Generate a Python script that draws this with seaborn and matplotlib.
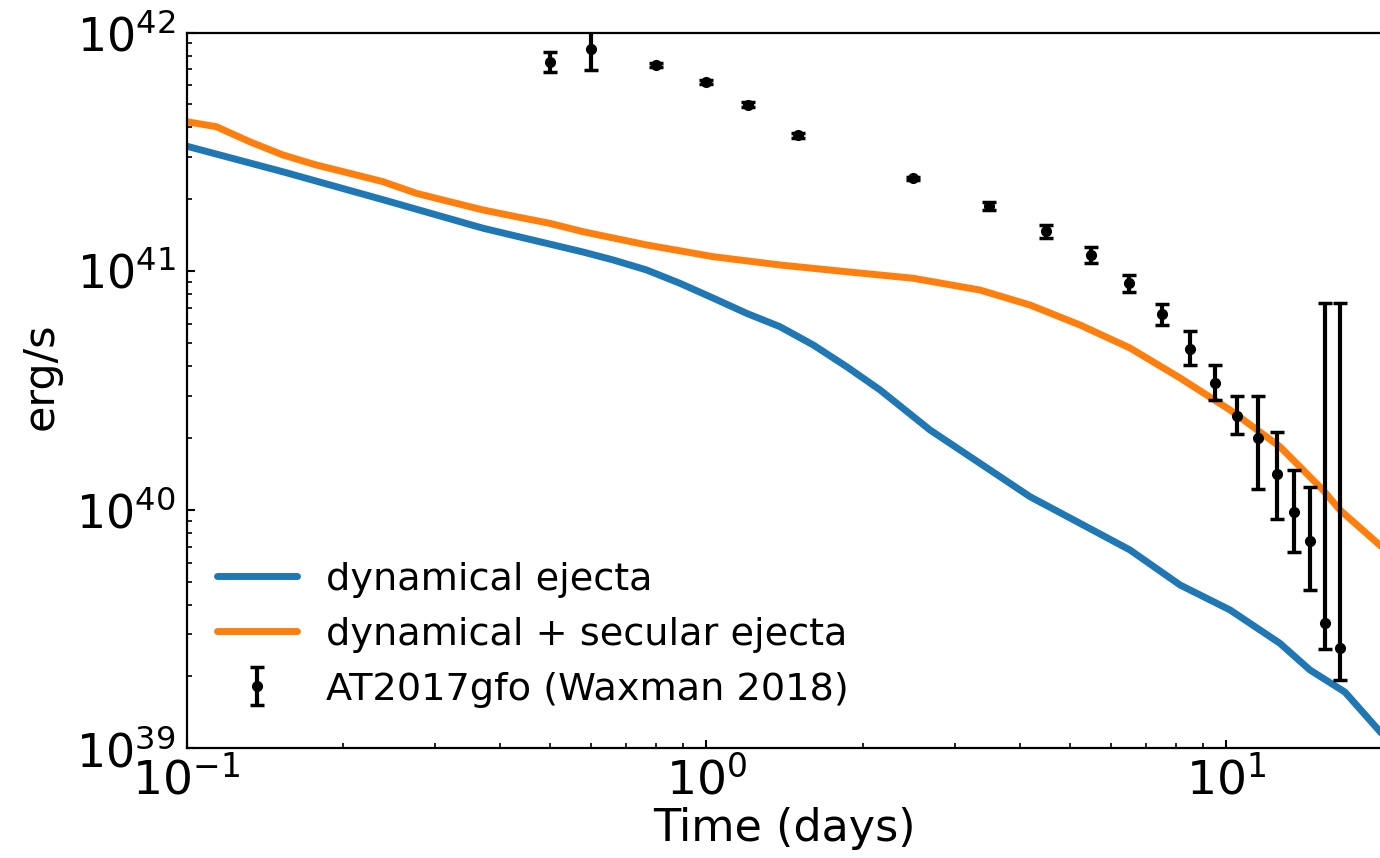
import numpy as np
import pandas as pd
import matplotlib
matplotlib.use("Agg")
import matplotlib.pyplot as plt
import seaborn as sns

# ---- model light curves (days, erg/s) ----
dyn_t = [0.100, 0.153, 0.239, 0.372, 0.579, 0.662, 0.767, 0.889, 1.031, 1.195,
         1.384, 1.605, 1.860, 2.157, 2.691, 3.357, 4.189, 5.228, 6.522, 8.142,
         10.16, 12.67, 14.47, 16.90, 20.0]
dyn_L = [3.34e41, 2.61e41, 1.99e41, 1.512e41, 1.202e41, 1.113e41, 1.011e41, 8.89e40, 7.7e40, 6.65e40,
         5.85e40, 4.9e40, 3.976e40, 3.176e40, 2.158e40, 1.565e40, 1.134e40, 8.77e39, 6.78e39, 4.836e39,
         3.80e39, 2.754e39, 2.13e39, 1.72e39, 1.137e39]

sec_t = [0.100, 0.1141, 0.1323, 0.1533, 0.1777, 0.206, 0.2387, 0.2766, 0.3208, 0.3717,
         0.4307, 0.4995, 0.5786, 0.7674, 1.031, 1.384, 1.860, 2.499, 3.357, 4.189,
         5.228, 6.522, 8.142, 10.16, 12.67, 15.33, 16.53, 20.0]
sec_L = [4.23e41, 4.03e41, 3.486e41, 3.066e41, 2.784e41, 2.570e41, 2.37e41, 2.119e41, 1.954e41, 1.804e41,
         1.690e41, 1.586e41, 1.463e41, 1.287e41, 1.149e41, 1.061e41, 9.94e40, 9.33e40, 8.33e40, 7.21e40,
         5.945e40, 4.762e40, 3.565e40, 2.618e40, 1.837e40, 1.21e40, 9.97e39, 6.91e39]

# ---- AT2017gfo bolometric luminosity (Waxman 2018) ----
obs_t = [0.5, 0.6, 0.8, 1.0, 1.2, 1.5, 2.5, 3.5, 4.5, 5.5, 6.5,
         7.5, 8.5, 9.5, 10.5, 11.5, 12.5, 13.5, 14.5, 15.5, 16.5]
obs_L = [7.55e41, 8.5e41, 7.31e41, 6.22e41, 4.97e41, 3.71e41, 2.45e41, 1.87e41, 1.47e41, 1.17e41, 8.89e40,
         6.59e40, 4.73e40, 3.39e40, 2.48e40, 1.99e40, 1.41e40, 9.8e39, 7.41e39, 3.34e39, 2.64e39]
obs_lo = [6.85e41, 6.96e41, 7.15e41, 6.1e41, 4.85e41, 3.62e41, 2.41e41, 1.80e41, 1.38e41, 1.08e41, 8.2e40,
          5.93e40, 4.03e40, 2.88e40, 2.07e40, 1.22e40, 9.1e39, 6.63e39, 4.6e39, 2.60e39, 1.93e39]
obs_hi = [8.3e41, 1.02e42, 7.47e41, 6.34e41, 5.1e41, 3.8e41, 2.49e41, 1.94e41, 1.56e41, 1.26e41, 9.64e40,
          7.26e40, 5.61e40, 4.03e40, 3.01e40, 3.01e40, 2.11e40, 1.47e40, 1.24e40, 7.37e40, 7.37e40]

labels = ["dynamical ejecta", "dynamical + secular ejecta", "AT2017gfo (Waxman 2018)"]

sns.set_style("white")
plt.rcParams['font.family'] = ['DejaVu Sans']
plt.rcParams['mathtext.fontset'] = 'dejavusans'
for k in ["text.color", "axes.labelcolor", "xtick.color", "ytick.color", "axes.edgecolor"]:
    plt.rcParams[k] = "black"

W, H = 1380, 858
fig = plt.figure(figsize=(W / 100, H / 100), dpi=100)
left, right, top, bottom = 186.5, 1383, 32.5, 748.3
ax = fig.add_axes([left / W, 1 - bottom / H, (right - left) / W, (bottom - top) / H])

df_dyn = pd.DataFrame({"t": dyn_t, "L": dyn_L})
df_sec = pd.DataFrame({"t": sec_t, "L": sec_L})
sns.lineplot(data=df_dyn, x="t", y="L", ax=ax, color="#1f77b4", lw=5, sort=False,
             estimator=None, label=labels[0])
sns.lineplot(data=df_sec, x="t", y="L", ax=ax, color="#ff7f0e", lw=5, sort=False,
             estimator=None, label=labels[1])

obs_L_a = np.array(obs_L)
yerr = [obs_L_a - np.array(obs_lo), np.array(obs_hi) - obs_L_a]
ax.errorbar(obs_t, obs_L, yerr=yerr, fmt='o', color='black', ms=7, elinewidth=3,
            capsize=5, capthick=2.5, label=labels[2], zorder=5)

ax.set_xscale("log")
ax.set_yscale("log")
ax.set_xlim(0.1, 20)
ax.set_ylim(1e39, 1e42)

for s in ax.spines.values():
    s.set_color("black")
    s.set_linewidth(1.6)

ax.tick_params(which="both", direction="in", top=False, right=False, left=True, bottom=True,
               color="black")
ax.tick_params(which="major", length=6, width=1.5, pad=8)
ax.tick_params(which="minor", length=3.5, width=1.2)
ax.tick_params(axis="y", which="major", labelsize=33)
ax.tick_params(axis="x", which="major", labelsize=34, pad=6)

ax.set_xlabel("Time (days)", fontsize=32, labelpad=2)
ax.set_ylabel("erg/s", fontsize=31)
ax.yaxis.set_label_coords(-0.104, 0.52)

leg = ax.legend(loc="lower left", bbox_to_anchor=(0, 0.014), frameon=False, fontsize=27.5,
                handlelength=2.1, handletextpad=0.75, labelspacing=0.5, borderaxespad=0.4)

fig.savefig("out.png", dpi=100, facecolor="white")
